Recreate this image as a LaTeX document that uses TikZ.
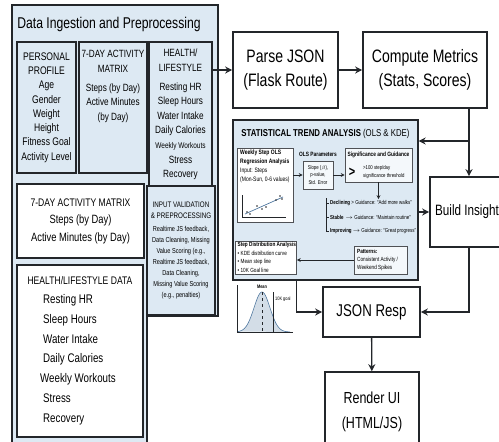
\documentclass[tikz,border=0pt]{standalone}
\usepackage{fontspec}
\setmainfont{Liberation Sans}[FakeStretch=0.78]
\usetikzlibrary{arrows.meta,positioning,calc}

\definecolor{panelc}{RGB}{221,233,243}
\definecolor{linec}{RGB}{35,38,42}
\definecolor{boxc}{RGB}{244,248,251}
\definecolor{curvec}{RGB}{80,120,160}
\newcommand{\fsz}[2]{\fontsize{#1}{#2}\selectfont}

\tikzset{
  panel/.style={draw=linec, fill=panelc, line width=1.3pt, inner sep=0pt},
  inbox/.style={draw=linec, fill=panelc, line width=1.4pt, inner sep=0pt, align=center},
  wbox/.style={draw=linec, fill=white, line width=1.6pt, inner sep=0pt, align=center},
  sbox/.style={draw=linec!80, fill=boxc, line width=0.6pt, inner sep=0pt, align=center},
  flow/.style={->, line width=1.3pt, draw=linec},
  sflow/.style={-{Stealth[length=4pt,width=4pt]}, line width=0.7pt, draw=linec},
}

\begin{document}
\begin{tikzpicture}[x=1pt, y=-1pt, >={Stealth[length=7pt,width=7pt]}]
    \useasboundingbox (0,0) rectangle (499,442);

    % ingestion panel
    \path [panel] (12,5) -- (218,5) -- (218,316) -- (147,316) -- (147,460) -- (12,460) -- cycle;
    \node [font=\fsz{15.6}{18}] (ingt) at (109,24) {Data Ingestion and Preprocessing};

    \node [inbox, minimum width=59pt, minimum height=131pt, font=\fsz{11}{14.3}] (prof) at (46.5,107.5)
        {PERSONAL\\PROFILE\\Age\\Gender\\Weight\\Height\\Fitness Goal\\Activity Level};
    \node [inbox, minimum width=68pt, minimum height=131pt] (act) at (113,107.5) {};
    \node [anchor=north, align=center, inner sep=0pt, font=\fsz{10.5}{14.5}] (actt) at (113,50)
        {7-DAY ACTIVITY\\MATRIX\\[4.5pt]Steps (by Day)\\Active Minutes\\(by Day)};
    \node [inbox, minimum width=63pt, minimum height=145pt, font=\fsz{10.5}{14.6}] (hl) at (180.5,114.5)
        {HEALTH/\\LIFESTYLE\\[4pt]Resting HR\\Sleep Hours\\Water Intake\\Daily Calories\\\fsz{8.3}{14.6}Weekly Workouts\\Stress\\Recovery};

    \node [wbox, minimum width=127pt, minimum height=74pt, font=\fsz{12}{17.5}] (actb) at (80.5,221)
        {\fsz{11}{17.5}7-DAY ACTIVITY MATRIX\\Steps (by Day)\\Active Minutes (by Day)};
    \node [inbox, minimum width=68pt, minimum height=129pt, font=\fsz{7.2}{11}] (inval) at (181,250.5)
        {\fsz{8}{13}INPUT VALIDATION\\\fsz{8}{13}\& PREPROCESSING\\[2pt]Realtime JS feedback,\\Data Cleaning, Missing\\Value Scoring (e.g.,\\Realtime JS feedback,\\Data Cleaning,\\Missing Value Scoring\\(e.g., penalties)};

    \node [wbox, minimum width=126pt, minimum height=172pt] (hld) at (80,351) {};
    \node [anchor=base, font=\fsz{11}{12}] (hldt) at (80,284) {HEALTH/LIFESTYLE DATA};
    \foreach \xx/\yy/\t in {43/303/Resting HR, 43/323/Sleep Hours, 43/343/Water Intake, 43/362/Daily Calories,
                            40/382/Weekly Workouts, 43/402/Stress, 43/422/Recovery}
        \node [anchor=base west, inner sep=0pt, font=\fsz{12.5}{14}] (hd\yy) at (\xx,\yy) {\t};

    % pipeline
    \node [wbox, minimum width=105pt, minimum height=76pt, font=\fsz{18}{24}] (parse) at (285.5,70) {Parse JSON\\(Flask Route)};
    \node [wbox, minimum width=124pt, minimum height=76pt, font=\fsz{18}{24}] (comp) at (425,70) {Compute Metrics\\(Stats, Scores)};
    \node [wbox, minimum width=80pt, minimum height=70pt, font=\fsz{15}{20}] (build) at (470,212) {Build Insight\hspace*{6pt}};
    \node [wbox, minimum width=97pt, minimum height=50pt, font=\fsz{17}{20}] (json) at (371.5,312) {JSON Resp};
    \node [wbox, minimum width=94pt, minimum height=80pt, font=\fsz{16}{25}] (render) at (372,412) {Render UI\\(HTML/JS)};

    % trend analysis panel
    \node [panel, minimum width=185pt, minimum height=160pt] (stat) at (325.5,200) {};
    \node [font=\fsz{10}{11}] (statt) at (325.5,134) {\textbf{STATISTICAL TREND ANALYSIS} (OLS \& KDE)};

    \node [sbox, fill=white, minimum width=56pt, minimum height=74pt] (ols) at (265,185) {};
    \node [anchor=north west, align=left, inner sep=0pt, font=\fsz{6.4}{9}] (olst) at (240,149.5)
        {\textbf{Weekly Step OLS}\\\textbf{Regression Analysis}\\Input: Steps\\(Mon-Sun, 0-6 values)};
    \draw [linec, line width=0.5pt] (242,195) -- (242,217) -- (286,217);
    \draw [curvec, line width=0.7pt] (245,214) -- (283,197);
    \foreach \px/\py in {247/212, 250/214, 257/206, 262/209, 266/207, 276/200, 280/196, 282/199}
        \fill [linec] (\px,\py) circle (0.9pt);

    \node [font=\fsz{6.2}{7}] (olspt) at (318,154) {\textbf{OLS Parameters}};
    \node [sbox, minimum width=30pt, minimum height=28pt, font=\fsz{5.5}{7.5}] (olsp) at (318,175) {Slope ($\beta$),\\p-value,\\Std. Error};

    \node [sbox, minimum width=67pt, minimum height=34pt] (sig) at (378.5,165) {};
    \node [font=\fsz{6.2}{7}] (sigt) at (378.5,155) {\textbf{Significance and Guidance}};
    \node [font=\fsz{14}{14}, inner sep=0pt] (siggt) at (352,172) {\textbf{>}};
    \node [anchor=west, align=left, inner sep=0pt, font=\fsz{5.5}{8.5}] (sigtx) at (363,172) {>100 step/day\\significance threshold};

    \node [anchor=west, inner sep=1pt, font=\fsz{5.7}{7}] (dec) at (329,203) {\textbf{Declining} > Guidance: ``Add more walks''};
    \node [anchor=west, inner sep=1pt, font=\fsz{5.7}{7}] (stab) at (329,217) {\textbf{Stable} \,$\rightarrow$ Guidance: ``Maintain routine''};
    \node [anchor=west, inner sep=1pt, font=\fsz{5.7}{7}] (imp) at (329,231) {\textbf{Improving} $\rightarrow$ Guidance: ``Great progress''};
    \coordinate (tree) at (326,198);
    \draw [linec, line width=0.5pt] (tree) |- (imp.west);
    \draw [linec, line width=0.5pt] (tree |- dec.west) -- (dec.west);
    \draw [linec, line width=0.5pt] (tree |- stab.west) -- (stab.west);

    \node [sbox, fill=white, minimum width=61pt, minimum height=33pt] (sd) at (266,257.5) {};
    \node [anchor=north west, align=left, inner sep=0pt, font=\fsz{6}{8.5}] (sdt) at (237.5,242)
        {\textbf{Step Distribution Analysis}\\\textbullet\ KDE distribution curve\\\textbullet\ Mean step line\\\textbullet\ 10K Goal line};
    \node [sbox, minimum width=53pt, minimum height=28pt] (pat) at (380.5,260) {};
    \node [anchor=west, align=left, inner sep=0pt, font=\fsz{6}{8}] (patt) at (357,260)
        {\textbf{Patterns:}\\Consistent Activity /\\Weekend Spikes};

    % small arrows
    \draw [sflow] (ols.east |- olsp.west) -- (olsp.west);
    \draw [sflow] (olsp.east) -- (olsp.east -| sig.west);
    \draw [sflow] (sig.south) -- (sig.south |- dec.north);
    \draw [sflow] (pat.west) -- (pat.west -| sd.east);

    % kde sketch
    \draw [curvec, fill=curvec!25, line width=0.6pt] plot [domain=238:290, samples=60] (\x, {332-40*exp(-0.5*((\x-262)/8)^2)});
    \draw [dashed, linec, line width=0.6pt] (262,292) -- (262,332);
    \draw [linec, line width=0.6pt] (273,292) -- (273,332);
    \draw [linec, line width=0.8pt] (237,285) -- (237,332) -- (293,332);
    \node [font=\fsz{5}{6}] (meanl) at (262,287) {\textbf{Mean}};
    \node [anchor=west, inner sep=1pt, font=\fsz{5}{6}] (goall) at (274,299) {10K goal};

    % connectors
    \coordinate (cm) at (469,141);
    \draw [flow] (hl.east |- parse.west) -- (parse.west);
    \draw [flow] (parse) -- (comp);
    \draw [line width=1.3pt, linec] (comp.south -| cm) -- (cm);
    \draw [flow] (cm) -- (cm -| stat.east);
    \draw [flow] (cm) -- (cm |- build.north);
    \draw [flow] (stat.east |- build.west) -- (build.west);
    \draw [flow] (sd.east |- stat.south) |- (json.west);
    \draw [flow] (cm |- build.south) |- (json.east);
    \draw [flow] (json) -- (render);
\end{tikzpicture}
\end{document}
